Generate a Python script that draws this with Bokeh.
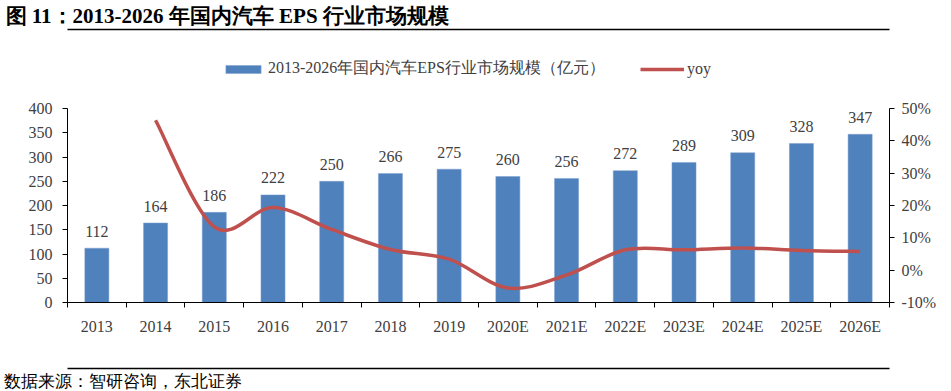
from bokeh.plotting import figure
from bokeh.models import (Range1d, LinearAxis, FixedTicker, ColumnDataSource, LabelSet,
                          Legend, LegendItem, Title, PrintfTickFormatter)
from bokeh.embed import file_html
from bokeh.resources import INLINE

# ---------------- data ----------------
years = ["2013", "2014", "2015", "2016", "2017", "2018", "2019",
         "2020E", "2021E", "2022E", "2023E", "2024E", "2025E", "2026E"]
market_size = [112, 164, 186, 222, 250, 266, 275, 260, 256, 272, 289, 309, 328, 347]
yoy_years = years[1:]
yoy_pct = [46.4, 13.4, 19.4, 12.6, 6.4, 3.4, -5.5, -1.5, 6.3, 6.3, 6.9, 6.1, 5.8]
left_ticks = [0, 50, 100, 150, 200, 250, 300, 350, 400]
right_ticks = [-10, 0, 10, 20, 30, 40, 50]
title_text = "图 11：2013-2026 年国内汽车 EPS 行业市场规模"
source_text = "数据来源：智研咨询，东北证券"
bar_label = "2013-2026年国内汽车EPS行业市场规模（亿元）"
line_label = "yoy"

SERIF = "Liberation Serif"
TXT = "#404040"
BLUE = "#4F81BD"
RED = "#C0504D"

# layout (pixels)
W, H = 951, 391
ML, MR, MT, MB = 67, 62, 29, 86
FH = H - MT - MB            # frame height
AXIS_H = 196                # pixel height of the 0..400 axis span
left_end = left_ticks[-1] * FH / AXIS_H
right_end = right_ticks[0] + (right_ticks[-1] - right_ticks[0]) * FH / AXIS_H

p = figure(width=W, height=H, x_range=Range1d(-0.5, len(years) - 0.5),
           y_range=Range1d(0, left_end), output_backend="svg", toolbar_location=None,
           min_border_left=ML, min_border_right=MR, min_border_top=MT, min_border_bottom=MB)
p.outline_line_color = None
p.grid.visible = False
p.extra_y_ranges = {"yoy": Range1d(right_ticks[0], right_end)}

xi = list(range(len(years)))
src = ColumnDataSource(dict(x=xi, top=market_size, lab=[str(v) for v in market_size]))
bars = p.vbar(x="x", top="top", width=0.41, source=src, fill_color=BLUE,
              line_color="#7F9FCF", line_width=0.5)

p.add_layout(LabelSet(x="x", y="top", text="lab", source=src, y_offset=17,
                      text_align="center", text_baseline="middle", text_font=SERIF,
                      text_font_size="16px", text_color=TXT))

# smooth yoy curve (cubic bezier segments through the data points)
yx = [years.index(y) for y in yoy_years]
n = len(yoy_pct)
x0, y0, x1, y1, cx0, cy0, cx1, cy1 = [], [], [], [], [], [], [], []
for i in range(n - 1):
    pxm, pym = (yx[i - 1], yoy_pct[i - 1]) if i > 0 else (yx[i], yoy_pct[i])
    pxn, pyn = (yx[i + 2], yoy_pct[i + 2]) if i + 2 < n else (yx[i + 1], yoy_pct[i + 1])
    x0.append(yx[i]); y0.append(yoy_pct[i]); x1.append(yx[i + 1]); y1.append(yoy_pct[i + 1])
    cx0.append(yx[i] + (yx[i + 1] - pxm) / 6); cy0.append(yoy_pct[i] + (yoy_pct[i + 1] - pym) / 6)
    cx1.append(yx[i + 1] - (pxn - yx[i]) / 6); cy1.append(yoy_pct[i + 1] - (pyn - yoy_pct[i]) / 6)
bsrc = ColumnDataSource(dict(x0=x0, y0=y0, x1=x1, y1=y1, cx0=cx0, cy0=cy0, cx1=cx1, cy1=cy1))
bez = p.bezier(x0="x0", y0="y0", x1="x1", y1="y1", cx0="cx0", cy0="cy0", cx1="cx1", cy1="cy1",
               source=bsrc, line_color=RED, line_width=3.5, y_range_name="yoy")

# axes
xa = p.xaxis[0]
xa.ticker = FixedTicker(ticks=xi, minor_ticks=[i - 0.5 for i in range(len(years) + 1)])
xa.major_label_overrides = {i: y for i, y in enumerate(years)}
xa.major_tick_out = 0
xa.major_tick_in = 0
xa.minor_tick_out = 5
xa.minor_tick_in = 0
xa.minor_tick_line_color = "black"
xa.axis_line_color = "black"
xa.major_label_standoff = 10
# blank axis label only reserves room above the lower rule
xa.axis_label = " "
xa.axis_label_text_font_size = "16px"
xa.axis_label_standoff = 11

ya = p.yaxis[0]
ya.ticker = FixedTicker(ticks=left_ticks)
ya.bounds = (left_ticks[0], left_ticks[-1])
ya.major_tick_out = 5
ya.major_tick_in = 0
ya.minor_tick_line_color = None
ya.axis_line_color = "black"
ya.major_tick_line_color = "black"
ya.major_label_standoff = 10

ra = LinearAxis(y_range_name="yoy", ticker=FixedTicker(ticks=right_ticks),
                formatter=PrintfTickFormatter(format="%d%%"),
                bounds=(right_ticks[0], right_ticks[-1]))
ra.major_tick_out = 5
ra.major_tick_in = 0
ra.minor_tick_line_color = None
ra.axis_line_color = "black"
ra.major_tick_line_color = "black"
ra.major_label_standoff = 7
p.add_layout(ra, "right")

for ax in (xa, ya, ra):
    ax.major_label_text_font = SERIF
    ax.major_label_text_font_size = "16px"
    ax.major_label_text_color = TXT


def rule_axis():
    ax = LinearAxis(ticker=FixedTicker(ticks=[]), axis_line_color="black", axis_line_width=1.5,
                    major_tick_line_color=None, minor_tick_line_color=None,
                    major_tick_out=0, major_tick_in=0, minor_tick_out=0, minor_tick_in=0,
                    major_label_standoff=0, major_label_text_font_size="0px")
    return ax


# upper rule + title
p.add_layout(rule_axis(), "above")
p.add_layout(Title(text=title_text, align="left", offset=-62, standoff=3,
                   text_font=SERIF, text_font_size="21px", text_font_style="bold",
                   text_color="black"), "above")

# lower rule + source note
p.add_layout(rule_axis(), "below")
p.add_layout(Title(text=source_text, align="left", offset=-64, standoff=2,
                   text_font=SERIF, text_font_size="17px", text_font_style="normal",
                   text_color="black"), "below")

# legend inside the (extended) frame
legend = Legend(items=[LegendItem(label=bar_label, renderers=[bars]),
                       LegendItem(label=line_label, renderers=[bez])],
                orientation="horizontal", location=(154, 223), padding=0, margin=0,
                border_line_color=None, background_fill_alpha=0,
                glyph_width=44, glyph_height=10, label_standoff=3, spacing=35,
                label_text_font=SERIF, label_text_font_size="16px", label_text_color=TXT)
p.add_layout(legend)

open("out.html", "w").write(file_html(p, INLINE))
